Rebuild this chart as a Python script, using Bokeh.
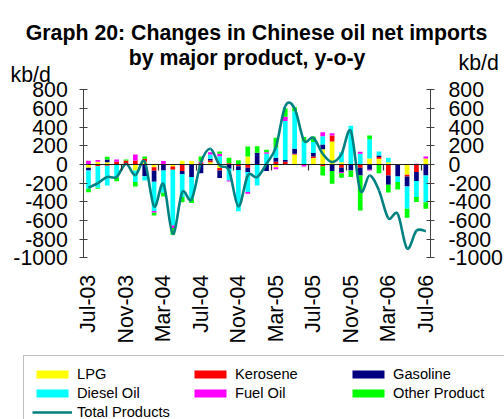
import math
from bokeh.plotting import figure
from bokeh.models import (ColumnDataSource, Range1d, LinearAxis, FixedTicker, Label,
                          Legend, LegendItem, CustomJSTickFormatter)
from bokeh.embed import file_html
from bokeh.resources import INLINE

# ---------------- data (kb/d, y-o-y change) ----------------
months = ["Jul-03", "Aug-03", "Sep-03", "Oct-03", "Nov-03", "Dec-03",
          "Jan-04", "Feb-04", "Mar-04", "Apr-04", "May-04", "Jun-04",
          "Jul-04", "Aug-04", "Sep-04", "Oct-04", "Nov-04", "Dec-04",
          "Jan-05", "Feb-05", "Mar-05", "Apr-05", "May-05", "Jun-05",
          "Jul-05", "Aug-05", "Sep-05", "Oct-05", "Nov-05", "Dec-05",
          "Jan-06", "Feb-06", "Mar-06", "Apr-06", "May-06", "Jun-06", "Jul-06"]

lpg = [-36, 29, 25, 0, 0, -64, 30, -30, 0, -21, 40, 36, 0, 25, -39, 0, 0, 86, 0,
       0, -29, 0, 107, 0, 68, 164, 246, 25, 0, 0, 65, 60, 25, 0, -111, 0, 64]
kerosene = [0, -20, -15, 29, 43, 43, 30, -36, 0, -36, -70, 0, 18, 18, -25, 14, -20, -36, 0,
            0, 29, 29, 7, 0, 18, -21, 64, -36, 0, -36, 0, 20, -118, 0, -18, -82, 0]
gasoline = [-29, 0, 29, 0, 0, 0, -125, -118, -64, 0, -36, -135, -93, 18, -82, -46, -40, -46, 125,
            -71, 43, 18, 54, 0, 36, 50, -71, -46, -64, -82, -57, 15, -100, -128, -107, -96, -118]
diesel = [-196, -229, -210, -136, 0, -125, -46, -314, -240, -596, -243, -232, 0, 46, 89, -125, -440, -214, -225,
          114, 107, 418, 403, 250, 118, 89, 0, 107, 415, 114, 205, 45, 46, -61, -239, -171, -286]
fuel_oil = [40, 18, 0, 25, 0, 64, 0, -18, 36, -29, 0, 0, 14, 25, 25, -11, 0, -18, 0,
            18, -21, 46, 0, -21, 0, 43, 25, -11, 0, 21, -8, 0, 0, 0, 0, 7, 21]
other_product = [-36, -11, 29, -43, 11, -46, 25, -30, -40, -71, -57, -46, 54, 0, 25, 57, 46, 107, 71,
                 25, 107, 89, 43, 43, 60, -96, -136, -50, -71, -375, 40, -93, -82, -79, -96, -54, -71]
total_products = [-250, -200, -135, -135, 5, -115, 30, -450, -210, -745, -300, -375, 20, 168, -10, -65,
                  -450, -118, -135, 7, 185, 625, 600, 257, 285, 114, 25, 110, 357, -280, -118, -278,
                  -575, -530, -900, -710, -715]

label_months = [0, 4, 8, 12, 16, 20, 24, 28, 32, 36]
y_ticks = [-1000, -800, -600, -400, -200, 0, 200, 400, 600, 800]
y_min, y_max = -1000, 800

FONT = "Liberation Sans"
n = len(months)
xs = list(range(n))

# ---------------- canvas geometry (the frame fills the whole canvas) ----------------
W, H = 504, 419
PLOT_L, PLOT_R = 83.3, 430.0      # px of the category area inside the canvas
PLOT_T, PLOT_B = 89.3, 257.3      # px of 800 / -1000
cat_px = (PLOT_R - PLOT_L) / n
x_start = -0.5 - PLOT_L / cat_px
x_end = x_start + W / cat_px
u_per_px = (y_max - y_min) / (PLOT_B - PLOT_T)
y_end = y_max + PLOT_T * u_per_px
y_start = y_end - H * u_per_px

p = figure(width=W, height=H, output_backend="svg", toolbar_location=None,
           x_range=Range1d(x_start, x_end), y_range=Range1d(y_start, y_end),
           min_border=0, min_border_left=0, min_border_right=0,
           min_border_top=0, min_border_bottom=0, title=None)
p.outline_line_color = None
p.xgrid.visible = False
p.ygrid.visible = False
p.background_fill_color = "white"
p.border_fill_color = "white"

# ---------------- stacked bars ----------------
series = [("LPG", lpg, "#FFFF00"), ("Kerosene", kerosene, "#FF0000"),
          ("Gasoline", gasoline, "#000080"), ("Diesel Oil", diesel, "#00FFFF"),
          ("Fuel Oil", fuel_oil, "#FF00FF"), ("Other Product", other_product, "#00FF00")]
pos = [0.0] * n
neg = [0.0] * n
rends = {}
for name, vals, color in series:
    bots, tops = [], []
    for i, v in enumerate(vals):
        if v >= 0:
            bots.append(pos[i]); tops.append(pos[i] + v); pos[i] += v
        else:
            bots.append(neg[i] + v); tops.append(neg[i]); neg[i] += v
    src = ColumnDataSource(dict(x=xs, bottom=bots, top=tops))
    rends[name] = p.vbar(x="x", bottom="bottom", top="top", width=0.5, source=src,
                         fill_color=color, line_color=None)

# ---------------- smoothed total line (Bezier through the data points) ----------------
bx0, by0, bx1, by1, bcx0, bcy0, bcx1, bcy1 = ([] for _ in range(8))
for i in range(n - 1):
    a = max(i - 1, 0); b = i; c = i + 1; d = min(i + 2, n - 1)
    bx0.append(xs[b]); by0.append(total_products[b])
    bx1.append(xs[c]); by1.append(total_products[c])
    bcx0.append(xs[b] + (xs[c] - xs[a]) / 6.0)
    bcy0.append(total_products[b] + (total_products[c] - total_products[a]) / 6.0)
    bcx1.append(xs[c] - (xs[d] - xs[b]) / 6.0)
    bcy1.append(total_products[c] - (total_products[d] - total_products[b]) / 6.0)
bsrc = ColumnDataSource(dict(x0=bx0, y0=by0, x1=bx1, y1=by1, cx0=bcx0, cy0=bcy0, cx1=bcx1, cy1=bcy1))
line_r = p.bezier(x0="x0", y0="y0", x1="x1", y1="y1", cx0="cx0", cy0="cy0", cx1="cx1", cy1="cy1",
                  source=bsrc, line_color="#008080", line_width=2.6)

# ---------------- axes (all at fixed data locations) ----------------
AX = "#404040"
xa = p.xaxis[0]
xa.fixed_location = y_min
xa.ticker = FixedTicker(ticks=label_months)
xa.major_label_overrides = {i: months[i] for i in label_months}
xa.major_label_orientation = math.pi / 2
xa.axis_line_color = None
xa.major_tick_line_color = None
xa.minor_tick_line_color = None
xa.major_tick_in = 0
xa.major_tick_out = 0
xa.major_label_standoff = 17
xa.major_label_text_font = FONT
xa.major_label_text_font_size = "21.3px"
xa.major_label_text_color = "black"

y_over = {v: str(v) for v in y_ticks}
ya = p.yaxis[0]
ya.fixed_location = -0.5
ya.bounds = (y_min, y_max)
ya.ticker = FixedTicker(ticks=y_ticks)
ya.major_label_overrides = y_over
ya.axis_line_color = AX
ya.major_tick_line_color = AX
ya.minor_tick_line_color = None
ya.major_tick_in = 4
ya.major_tick_out = 4
ya.major_label_standoff = 12
ya.major_label_text_font = FONT
ya.major_label_text_font_size = "21.3px"
ya.major_label_text_color = "black"

ry = LinearAxis(fixed_location=n - 0.5, bounds=(y_min, y_max),
                ticker=FixedTicker(ticks=y_ticks), major_label_overrides=y_over,
                axis_line_color=AX, major_tick_line_color=AX,
                minor_tick_line_color=None, major_tick_in=4, major_tick_out=4,
                major_label_standoff=14, major_label_text_font=FONT,
                major_label_text_font_size="21.3px", major_label_text_color="black")
p.add_layout(ry, "right")

boundaries = [3.5 + 4 * k for k in range(9)]
zero_axis = LinearAxis(fixed_location=0, bounds=(-0.5, n - 0.5), ticker=FixedTicker(ticks=boundaries),
                       formatter=CustomJSTickFormatter(code="return ''"),
                       axis_line_color="#202020", axis_line_width=1.2,
                       major_tick_line_color="#303030", major_tick_line_width=1.2,
                       major_tick_in=0, major_tick_out=6, minor_tick_line_color=None)
p.add_layout(zero_axis, "below")

# ---------------- title & units (screen px, page coordinates converted) ----------------
def sy(page_y):
    return H - page_y

def sx(page_x):
    return page_x

for txt, x, y in [("Graph 20: Changes in Chinese oil net imports", 256, 32.5),
                  ("by major product, y-o-y", 246.5, 57)]:
    p.add_layout(Label(x=sx(x), y=sy(y), x_units="screen", y_units="screen", text=txt,
                       text_align="center", text_baseline="alphabetic", text_font=FONT,
                       text_font_size="21.3px", text_font_style="bold", text_color="black"))
p.add_layout(Label(x=sx(10), y=sy(74), x_units="screen", y_units="screen", text="kb/d",
                   text_align="left", text_baseline="alphabetic", text_font=FONT,
                   text_font_size="21.3px", text_color="black"))
p.add_layout(Label(x=sx(458), y=sy(62), x_units="screen", y_units="screen", text="kb/d",
                   text_align="left", text_baseline="alphabetic", text_font=FONT,
                   text_font_size="21.3px", text_color="black"))

# ---------------- legend ----------------
items = [LegendItem(label=name, renderers=[rends[name]]) for name, _, _ in series]
items.append(LegendItem(label="Total Products", renderers=[line_r]))
legend = Legend(items=items, location=(sx(23), sy(430)), orientation="horizontal", ncols=3,
                glyph_width=40, glyph_height=10, label_standoff=5, label_width=113,
                label_height=19, spacing=0, padding=8, margin=0,
                label_text_font=FONT, label_text_font_size="14.67px", label_text_color="black",
                border_line_color="#808080", border_line_width=1,
                background_fill_color="white", background_fill_alpha=1.0)
p.add_layout(legend, "center")

open("out.html", "w").write(file_html(p, INLINE))
